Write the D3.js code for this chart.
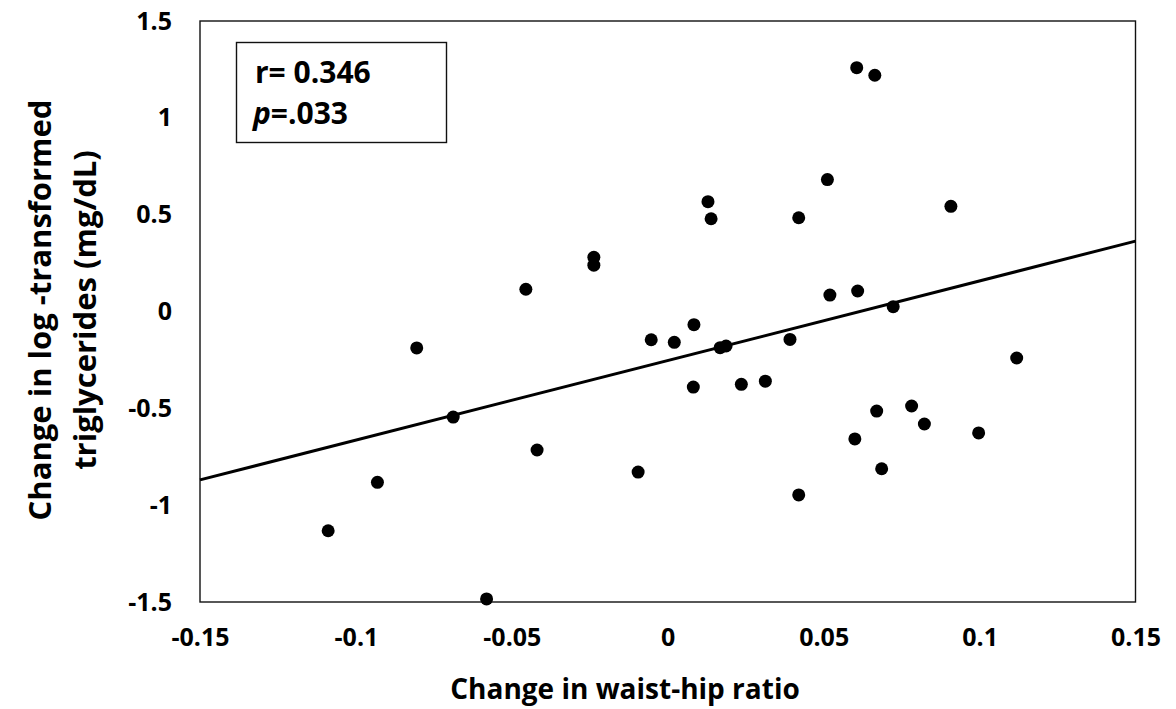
<!DOCTYPE html>
<html>
<head>
<meta charset="utf-8">
<script src="https://cdn.jsdelivr.net/npm/d3@7"></script>
<style>
  body { margin: 0; background: #fff; }
  text { font-family: "Open Sans", "Noto Sans", sans-serif; font-weight: bold; fill: #000; }
</style>
</head>
<body>
<svg id="chart"></svg>
<script>
// change in waist-hip ratio
const whr = [0.0606, 0.0664, 0.0129, 0.0139, 0.0512, 0.0420, 0.0908, -0.0237, -0.0237, -0.0455,
             0.0520, 0.0609, 0.0723, 0.0084, -0.0053, 0.0021, 0.0168, 0.0187, 0.0392, -0.0805,
             0.1119, 0.0082, 0.0236, 0.0313, -0.0688, 0.0670, 0.0782, 0.0823, 0.0997, 0.0600,
             -0.0419, 0.0686, -0.0095, -0.0931, 0.0420, -0.1089, -0.0581];
// change in log-transformed triglycerides
const tg = [1.259, 1.220, 0.567, 0.479, 0.681, 0.484, 0.543, 0.280, 0.239, 0.115,
            0.085, 0.106, 0.025, -0.068, -0.146, -0.159, -0.187, -0.178, -0.144, -0.188,
            -0.240, -0.390, -0.376, -0.360, -0.545, -0.514, -0.488, -0.581, -0.627, -0.658,
            -0.715, -0.812, -0.829, -0.882, -0.947, -1.132, -1.484];

const xTicks = [-0.15, -0.1, -0.05, 0, 0.05, 0.1, 0.15];
const yTicks = [-1.5, -1, -0.5, 0, 0.5, 1, 1.5];

// fitted line
const fitSlope = 4.11;
const fitIntercept = -0.253;

const width = 1176, height = 709;
const margin = { top: 21, right: 40.5, bottom: 107, left: 200 };

const svg = d3.select("#chart")
    .attr("width", width)
    .attr("height", height);

const x = d3.scaleLinear().domain([-0.15, 0.15]).range([margin.left, width - margin.right]);
const y = d3.scaleLinear().domain([-1.5, 1.5]).range([height - margin.bottom, margin.top]);

// plot frame
svg.append("rect")
    .attr("x", x(-0.15))
    .attr("y", y(1.5))
    .attr("width", x(0.15) - x(-0.15))
    .attr("height", y(-1.5) - y(1.5))
    .attr("fill", "none")
    .attr("stroke", "#111")
    .attr("stroke-width", 1.4);

// axes (labels only, no tick marks)
const xAxis = svg.append("g")
    .attr("transform", `translate(0,${y(-1.5)})`)
    .call(d3.axisBottom(x).tickValues(xTicks).tickSize(0).tickPadding(26).tickFormat(d => String(d)));
xAxis.select(".domain").remove();
xAxis.selectAll("text").attr("font-size", 25).attr("font-family", null);

const yAxis = svg.append("g")
    .attr("transform", `translate(${x(-0.15)},0)`)
    .call(d3.axisLeft(y).tickValues(yTicks).tickSize(0).tickPadding(28).tickFormat(d => String(d)));
yAxis.select(".domain").remove();
yAxis.selectAll("text").attr("font-size", 25).attr("font-family", null);

// regression line
svg.append("line")
    .attr("x1", x(-0.15))
    .attr("y1", y(fitIntercept + fitSlope * -0.15))
    .attr("x2", x(0.15))
    .attr("y2", y(fitIntercept + fitSlope * 0.15))
    .attr("stroke", "#000")
    .attr("stroke-width", 3);

// points
svg.append("g")
    .selectAll("circle")
    .data(whr.map((v, i) => [v, tg[i]]))
    .enter().append("circle")
    .attr("cx", d => x(d[0]))
    .attr("cy", d => y(d[1]))
    .attr("r", 6.5)
    .attr("fill", "#000");

// stats box
svg.append("rect")
    .attr("x", 236.5)
    .attr("y", 42.5)
    .attr("width", 210)
    .attr("height", 100)
    .attr("fill", "#fff")
    .attr("stroke", "#111")
    .attr("stroke-width", 1.4);

svg.append("text")
    .attr("x", 255)
    .attr("y", 83)
    .attr("font-size", 30)
    .text("r= 0.346");

const pText = svg.append("text")
    .attr("x", 253)
    .attr("y", 124)
    .attr("font-size", 30);
pText.append("tspan").attr("font-style", "italic").text("p");
pText.append("tspan").text("=.033");

// axis titles
svg.append("text")
    .attr("x", 625)
    .attr("y", 699)
    .attr("text-anchor", "middle")
    .attr("font-size", 28)
    .text("Change in waist-hip ratio");

const yTitle = svg.append("text")
    .attr("transform", "translate(40,310) rotate(-90)")
    .attr("text-anchor", "middle")
    .attr("font-size", 31);
yTitle.append("tspan").attr("x", 0).attr("dy", "0.35em").text("Change in log -transformed");
yTitle.append("tspan").attr("x", 0).attr("dy", 45).text("triglycerides (mg/dL)");
</script>
</body>
</html>
